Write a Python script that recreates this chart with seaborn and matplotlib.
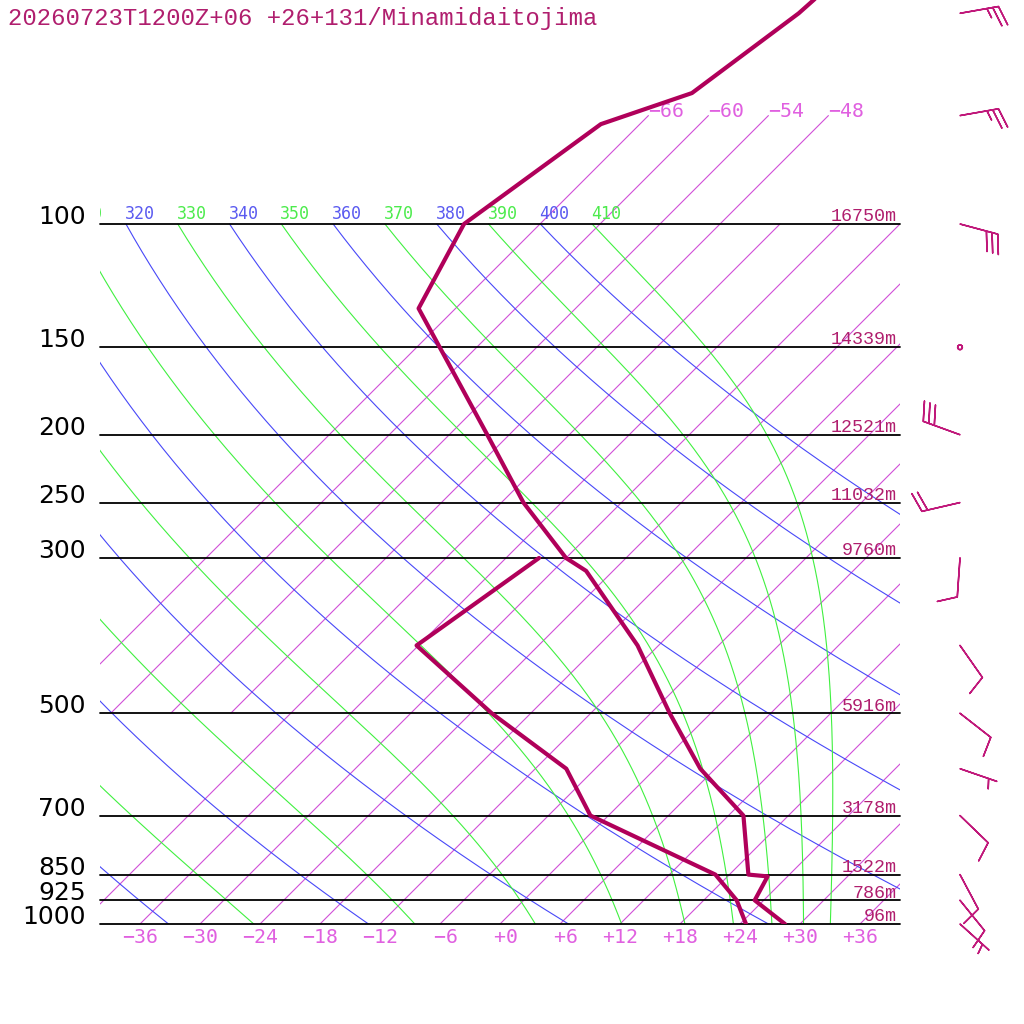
import numpy as np
import matplotlib
matplotlib.use("Agg")
import matplotlib.pyplot as plt
import seaborn as sns

title = "20260723T1200Z+06 +26+131/Minamidaitojima"

# temperature profile (hPa, degC)
t_pres = [1000, 925, 855, 850, 700, 600, 500, 400, 313, 300, 250, 200, 132, 100, 72, 65, 50, 45]
t_temp = [28.5, 23.1, 22.0, 19.9, 13.5, 4.5, -4.1, -14.1, -26.7, -30.0, -39.8, -50.2, -69.7, -73.6,
          -69.9, -63.9, -61.2, -60.8]
# dewpoint profile
td_pres = [1000, 925, 850, 700, 600, 500, 400, 300]
td_temp = [24.6, 21.3, 16.6, -1.8, -8.9, -21.9, -36.2, -32.7]

# winds (deg, kt)
w_pres = [1000, 925, 850, 700, 600, 500, 400, 300, 250, 200, 150, 100, 70, 50]
w_dir = [132, 141, 152, 134, 109, 128, 145, 184, 257, 290, 0, 105, 80, 80]
w_kt = [5, 10, 10, 10, 5, 10, 10, 10, 20, 30, 0, 30, 25, 25]

# standard levels with heights
lev_p = [1000, 925, 850, 700, 500, 300, 250, 200, 150, 100]
lev_z = ["96m", "786m", "1522m", "3178m", "5916m", "9760m", "11032m", "12521m", "14339m", "16750m"]

t_ticks = list(range(-36, 37, 6))
iso_temps = list(range(-66, 37, 6))
top_iso = [-66, -60, -54, -48]
dry_th = list(range(240, 401, 20))
moist_th = list(range(250, 411, 20))

K = 30.4          # skew, degC per ln(p) unit
KAPPA = 0.2857

C_ISO = "#D050D8"
C_DRY = "#4848F8"
C_MOIST = "#40F040"
C_PROF = "#B0005A"
C_TXT = "#B01E6E"


def skew(t, p):
    return np.asarray(t) + K * np.log(1000.0 / np.asarray(p, dtype=float))


def es(tc):
    return 6.112 * np.exp(17.67 * tc / (tc + 243.5))


def moist_lapse(t, p):
    e = es(t - 273.15)
    rs = 0.622 * e / (p - e)
    rd, lv, cp = 287.04, 2.501e6, 1005.7
    return (rd * t + lv * rs) / (cp + lv * lv * rs * 0.622 / (rd * t * t)) / p


def moist_adiabat(th):
    ps = np.geomspace(100, 1000, 300)
    ts = np.empty_like(ps)
    ts[0] = th * 0.1 ** KAPPA
    for i in range(len(ps) - 1):
        p0, dp, t0 = ps[i], ps[i + 1] - ps[i], ts[i]
        k1 = moist_lapse(t0, p0)
        k2 = moist_lapse(t0 + dp * k1 / 2, p0 + dp / 2)
        k3 = moist_lapse(t0 + dp * k2 / 2, p0 + dp / 2)
        k4 = moist_lapse(t0 + dp * k3, p0 + dp)
        ts[i + 1] = t0 + dp * (k1 + 2 * k2 + 2 * k3 + k4) / 6
    return ps, ts - 273.15


def tlabel(t):
    return f"{t:+3d}".replace("-", "\u2212")


sns.set_style("white")
plt.rcParams["font.family"] = ["DejaVu Sans"]

fig = plt.figure(figsize=(10.24, 10.24), dpi=100)
ax = fig.add_axes([100 / 1024, 100 / 1024, 800 / 1024, 924 / 1024])
ax.set_yscale("log")
ax.set_xlim(-40, 40)
ax.set_ylim(1000, 1000 * np.exp(-924 / 304))
ax.axis("off")

# isotherms
for t in iso_temps:
    p_bot = 1000 if t >= -42 else 500
    p_top = 70 if t <= -48 else 100
    p_hi = min(p_bot, 1000 * np.exp(-max(0.0, (-40 - t) / K)))
    p_lo = max(p_top, 1000 * np.exp(-(40 - t) / K))
    if p_hi > p_lo:
        ax.plot(skew([t, t], [p_hi, p_lo]), [p_hi, p_lo], color=C_ISO, lw=0.8, zorder=1)

# dry adiabats
pp = np.geomspace(100, 1000, 200)
for th in dry_th:
    tt = th * (pp / 1000) ** KAPPA - 273.15
    ax.plot(skew(tt, pp), pp, color=C_DRY, lw=0.8, zorder=1)
    if th >= 310:
        ax.annotate(str(th), xy=(skew(tt[0], 100), 100), xytext=(-0.8, 3.5),
                    textcoords="offset points", ha="left", va="baseline", fontsize=12,
                    family="DejaVu Sans Mono", color="#5A5AF0", clip_on=True,
                    annotation_clip=False)

# moist adiabats
for th in moist_th:
    mp, mt = moist_adiabat(th)
    ax.plot(skew(mt, mp), mp, color=C_MOIST, lw=0.8, zorder=1)
    if th >= 310:
        ax.annotate(str(th), xy=(skew(mt[0], 100), 100), xytext=(-0.8, 3.5),
                    textcoords="offset points", ha="left", va="baseline", fontsize=12,
                    family="DejaVu Sans Mono", color="#4CEB4C", clip_on=True,
                    annotation_clip=False)

# pressure lines and labels
for p, z in zip(lev_p, lev_z):
    ax.plot([-40, 40], [p, p], color="black", lw=1.3, zorder=2, clip_on=False)
    ax.text(-41.4, p, str(p), ha="right", va="baseline", fontsize=18,
            family="DejaVu Sans", color="black")
    ax.annotate(z, xy=(39.7, p), xytext=(0, 2), textcoords="offset points",
                ha="right", va="baseline", fontsize=13.2, family="Liberation Mono",
                color=C_TXT, annotation_clip=False)

# temperature labels
for t in t_ticks:
    ax.annotate(tlabel(t), xy=(t, 1000), xytext=(0, -9.4), textcoords="offset points",
                ha="center", va="center", fontsize=14.3, family="DejaVu Sans Mono",
                color="#E060E0", annotation_clip=False)
for t in top_iso:
    ax.annotate(tlabel(t), xy=(skew(t, 70), 70), xytext=(0, -1.2),
                textcoords="offset points", ha="left", va="baseline", fontsize=14.3,
                family="DejaVu Sans Mono", color="#E060E0", annotation_clip=False)

# profiles
sns.lineplot(x=skew(t_temp, t_pres), y=t_pres, sort=False, estimator=None, ax=ax,
             color=C_PROF, lw=3, zorder=5)
sns.lineplot(x=skew(td_temp, td_pres), y=td_pres, sort=False, estimator=None, ax=ax,
             color=C_PROF, lw=3, zorder=5)

# wind barbs
wd = np.radians(w_dir)
u = -np.array(w_kt) * np.sin(wd)
v = -np.array(w_kt) * np.cos(wd)
ax.barbs(np.full(len(w_pres), 46.0), w_pres, u, v, length=7.5, color="#C0187A",
         lw=1.1, clip_on=False, zorder=6,
         sizes=dict(height=0.5, spacing=0.15, width=0.3, emptybarb=0.06))

fig.text(8 / 1024, 1 - 25 / 1024, title, fontsize=17.2, family="Liberation Mono",
         va="baseline", ha="left", color=C_TXT)

fig.savefig("out.png", dpi=100, facecolor="white")
